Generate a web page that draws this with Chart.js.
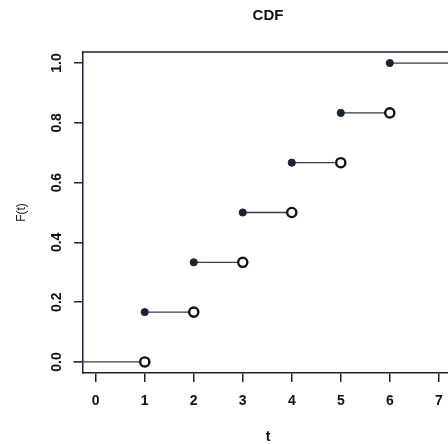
<!DOCTYPE html>
<html><head><meta charset="utf-8">
<script src="https://cdn.jsdelivr.net/npm/chart.js@4.4.0/dist/chart.umd.min.js"></script>
<style>html,body{margin:0;padding:0;overflow:hidden;background:#fff;width:448px;height:444px}canvas{display:block}</style>
</head><body>
<canvas id="c" width="460" height="444"></canvas>
<script>
const tValues = [1, 2, 3, 4, 5, 6];
const cdfBefore = [0.0, 0.1667, 0.3333, 0.5, 0.6667, 0.8333];
const cdfAt = [0.1667, 0.3333, 0.5, 0.6667, 0.8333, 1.0];
const segStart = [-0.46, 1, 2, 3, 4, 5, 6];
const segEnd = [1, 2, 3, 4, 5, 6, 7.6];
const segLevel = [0.0, 0.1667, 0.3333, 0.5, 0.6667, 0.8333, 1.0];
const xTicks = [0, 1, 2, 3, 4, 5, 6, 7];
const yTicks = [0.0, 0.2, 0.4, 0.6, 0.8, 1.0];

const INK = '#1c2236';
const FONT = "'Liberation Sans', Arial, sans-serif";

const segData = [];
segStart.forEach((s, i) => {
  segData.push({x: s, y: segLevel[i]});
  segData.push({x: segEnd[i], y: segLevel[i]});
  segData.push({x: segEnd[i], y: null});
});

const framePlugin = {
  id: 'frame',
  afterDraw(chart) {
    const {ctx, chartArea} = chart;
    ctx.save();
    ctx.strokeStyle = INK;
    ctx.lineWidth = 1.5;
    ctx.beginPath();
    ctx.moveTo(chartArea.left, chartArea.top);
    ctx.lineTo(chartArea.right, chartArea.top);
    ctx.stroke();
    ctx.fillStyle = '#111';
    ctx.font = "bold 15px " + FONT;
    ctx.textAlign = 'center';
    ctx.textBaseline = 'middle';
    ctx.fillText('CDF', (chartArea.left + chartArea.right) / 2, 16);
    ctx.restore();
  }
};

new Chart(document.getElementById('c'), {
  type: 'scatter',
  data: {
    datasets: [
      {
        type: 'line',
        data: segData,
        borderColor: '#3a3d48',
        borderWidth: 1.3,
        pointRadius: 0,
        spanGaps: false,
        clip: false,
        order: 3
      },
      {
        data: tValues.map((t, i) => ({x: t, y: cdfAt[i]})),
        pointRadius: 3.6,
        pointBackgroundColor: INK,
        pointBorderColor: INK,
        pointBorderWidth: 1,
        order: 2
      },
      {
        data: tValues.map((t, i) => ({x: t, y: cdfBefore[i]})),
        pointRadius: 4.6,
        pointBackgroundColor: '#ffffff',
        pointBorderColor: '#111',
        pointBorderWidth: 2.4,
        order: 1
      }
    ]
  },
  options: {
    responsive: false,
    animation: false,
    layout: {padding: {top: 52, right: 3, left: 0, bottom: 0}},
    plugins: {legend: {display: false}, tooltip: {enabled: false}, title: {display: false}},
    scales: {
      x: {
        type: 'linear',
        min: -0.26,
        max: 7.29,
        afterBuildTicks: s => { s.ticks = xTicks.map(v => ({value: v})); },
        afterFit: s => { s.height = 71; },
        grid: {drawOnChartArea: false, drawTicks: true, tickLength: 9, color: INK, lineWidth: 1.5},
        border: {display: true, color: INK, width: 1.5},
        ticks: {color: '#111', font: {family: FONT, size: 14, weight: 'bold'}, padding: 11, callback: v => String(v), maxRotation: 0, autoSkip: false},
        title: {display: true, text: 't', color: '#111', font: {family: FONT, size: 14, weight: 'bold', lineHeight: 1.0}, padding: {top: 0, bottom: 0}}
      },
      y: {
        type: 'linear',
        min: -0.037,
        max: 1.037,
        afterBuildTicks: s => { s.ticks = yTicks.map(v => ({value: v})); },
        afterFit: s => { s.width = 83; },
        grid: {drawOnChartArea: false, drawTicks: true, tickLength: 9, color: INK, lineWidth: 1.5},
        border: {display: true, color: INK, width: 1.5},
        ticks: {color: '#111', font: {family: FONT, size: 14, weight: 'bold'}, padding: 7, minRotation: 90, maxRotation: 90, crossAlign: 'center', callback: v => v.toFixed(1), autoSkip: false},
        title: {display: true, text: 'F(t)', color: '#111', font: {family: FONT, size: 12, lineHeight: 1.2}, padding: {top: 14, bottom: 0}}
      }
    }
  },
  plugins: [framePlugin]
});
</script>
</body></html>
